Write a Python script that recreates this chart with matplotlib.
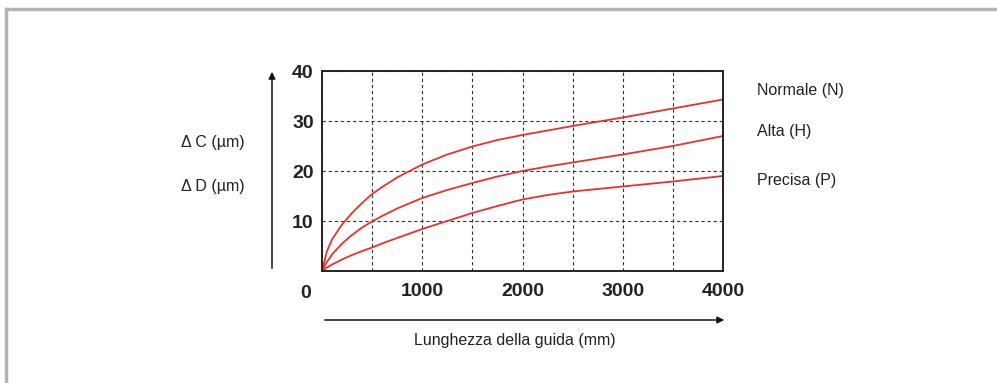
import matplotlib.pyplot as plt

# valori (lunghezza guida in mm, errore in µm)
lunghezza = [0, 50, 100, 200, 300, 400, 500, 600, 750, 1000, 1250, 1500, 1750,
             2000, 2250, 2500, 3000, 3500, 4000]
normale = [0, 4.0, 6.3, 9.3, 11.6, 13.6, 15.4, 16.8, 18.7, 21.3, 23.3, 24.9, 26.2,
           27.2, 28.1, 29.0, 30.7, 32.5, 34.3]
alta = [0, 1.8, 3.3, 5.5, 7.2, 8.7, 9.9, 11.0, 12.5, 14.6, 16.2, 17.6, 18.9,
        20.0, 20.9, 21.7, 23.3, 25.0, 27.0]
precisa = [0, 0.7, 1.3, 2.3, 3.2, 4.0, 4.7, 5.5, 6.6, 8.4, 10.0, 11.6, 13.0,
           14.3, 15.2, 15.9, 16.9, 17.9, 19.0]

serie = [("Normale (N)", normale), ("Alta (H)", alta), ("Precisa (P)", precisa)]
x_ticks = [0, 500, 1000, 1500, 2000, 2500, 3000, 3500, 4000]
y_ticks = [0, 10, 20, 30, 40]

red = "#e8312c"
ink = "#222222"

fig = plt.figure(figsize=(9.97, 3.83), dpi=100)
ax = fig.add_axes([322 / 997, 112 / 383, 401 / 997, 200 / 383])

for nome, valori in serie:
    ax.plot(lunghezza, valori, color=red, lw=1.3, solid_joinstyle="round")

ax.set_xlim(0, 4000)
ax.set_ylim(0, 40)
ax.set_xticks(x_ticks)
ax.set_yticks(y_ticks)
tick_font = dict(fontfamily="Liberation Sans", fontweight="bold", fontsize=14, color=ink)
ax.set_xticklabels([str(v) if v % 1000 == 0 and v > 0 else "" for v in x_ticks], **tick_font)
ax.set_yticklabels([str(v) if v > 0 else "" for v in y_ticks], **tick_font)
ax.tick_params(axis="both", length=0)
ax.tick_params(axis="x", pad=9)
ax.tick_params(axis="y", pad=6)
ax.grid(True, ls=(0, (3, 2.5)), color="#333333", lw=0.8)
for s in ax.spines.values():
    s.set_linewidth(1.4)
    s.set_color(ink)

# etichetta dello zero nell'angolo
ax.annotate("0", xy=(0, 0), xytext=(-16, -22), textcoords="offset pixels",
            ha="center", va="center", **tick_font)

# frecce degli assi
ax.annotate("", xy=(272, 314), xytext=(272, 112), xycoords="figure pixels",
            textcoords="figure pixels",
            arrowprops=dict(arrowstyle="-|>", color="#111111", lw=1.1, mutation_scale=10))
ax.annotate("", xy=(727, 63), xytext=(322, 63), xycoords="figure pixels",
            textcoords="figure pixels",
            arrowprops=dict(arrowstyle="-|>", color="#111111", lw=1.1, mutation_scale=10))

tf = dict(fontfamily="Liberation Sans", fontsize=11.5, color=ink)
fig.text(213 / 997, 1 - 142 / 383, "Δ C (µm)", ha="center", va="center", **tf)
fig.text(213 / 997, 1 - 186 / 383, "Δ D (µm)", ha="center", va="center", **tf)
fig.text(515 / 997, 1 - 340 / 383, "Lunghezza della guida (mm)", ha="center", va="center", **tf)

etichette_y = [90, 132, 181]
for (nome, _), yp in zip(serie, etichette_y):
    fig.text(757 / 997, 1 - yp / 383, nome, ha="left", va="center", **tf)

# cornice grigia
fig.add_artist(plt.Line2D([5.5 / 997, 1], [1 - 9 / 383, 1 - 9 / 383], color="#b4b4b8", lw=2.5))
fig.add_artist(plt.Line2D([5.5 / 997, 5.5 / 997], [0, 1 - 9 / 383], color="#b4b4b8", lw=2.5))

fig.savefig("out.png", dpi=100)
